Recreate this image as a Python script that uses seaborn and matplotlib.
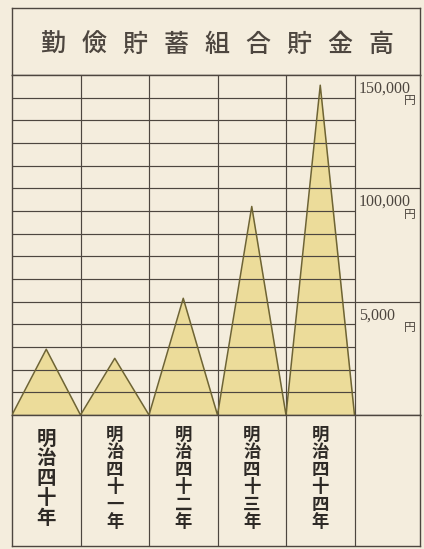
import numpy as np
import pandas as pd
import matplotlib.pyplot as plt
import seaborn as sns

# Data
years = ['明治四十年', '明治四十一年', '明治四十二年', '明治四十三年', '明治四十四年']
savings = [29000, 25000, 51500, 92000, 145500]
title_chars = list('勤儉貯蓄組合貯金高')
major_ticks = [150000, 100000, 50000]
major_labels = ['150,000', '100,000', '5,000']   # printed as in the original
minor_step = 10000
y_max = 150000

paper = '#f4eddd'
ink = '#4d463f'
fill_col = '#ecdc9a'
edge_col = '#6e6434'

sns.set_style('white')
plt.rcParams['font.family'] = ['Liberation Serif', 'Noto Sans CJK JP', 'DejaVu Sans']

W, H = 424, 549
fig = plt.figure(figsize=(W / 100, H / 100), dpi=100)
fig.patch.set_facecolor(paper)

left, right = 12, 420
col_w = 68.5
x_right = -0.5 + (right - left) / col_w

def box(top, bottom):
    return [left / W, 1 - bottom / H, (right - left) / W, (bottom - top) / H]

# -------------------------
# Title box
# -------------------------
ax_t = fig.add_axes(box(8, 75))
ax_t.set_facecolor(paper)
ax_t.set_xticks([])
ax_t.set_yticks([])
for s in ax_t.spines.values():
    s.set_color(ink)
    s.set_linewidth(1.0)
for x, ch in zip(np.linspace(0.1, 0.905, len(title_chars)), title_chars):
    ax_t.text(x, 0.45, ch, ha='center', va='center', fontsize=18,
              family=['Noto Sans CJK JP'], fontweight='medium', color=ink)

# -------------------------
# Main chart
# -------------------------
ax = fig.add_axes(box(75, 415))
ax.set_facecolor(paper)

pos = np.arange(len(years))
zig_x, zig_y = [-0.5], [0]
for i, v in zip(pos, savings):
    zig_x += [i, i + 0.5]
    zig_y += [v, 0]
df = pd.DataFrame({'x': zig_x, 'y': zig_y})

ax.fill_between(df['x'], 0, df['y'], color=fill_col, zorder=1, linewidth=0)

minor = [v for v in range(minor_step, y_max, minor_step) if v not in major_ticks]
ax.hlines(minor, -0.5, len(years) - 0.5, color=ink, linewidth=0.85, zorder=2)
ax.hlines([m for m in major_ticks if m < y_max], -0.5, x_right, color=ink,
          linewidth=0.85, zorder=2)
ax.vlines(pos + 0.5, 0, y_max, color=ink, linewidth=0.85, zorder=2)

sns.lineplot(data=df, x='x', y='y', sort=False, color=edge_col, linewidth=1.1,
             ax=ax, zorder=3)

for v, lab in zip(major_ticks, major_labels):
    ax.annotate(lab, xy=(len(years) - 0.5, v), xytext=(3, -4),
                textcoords='offset points', ha='left', va='top',
                fontsize=11.5, color=ink, family=['Liberation Serif'])
    ax.annotate('円', xy=(x_right, v), xytext=(-3, -14),
                textcoords='offset points', ha='right', va='top',
                fontsize=8.5, color=ink, family=['Noto Sans CJK JP'])

ax.set_xlim(-0.5, x_right)
ax.set_ylim(0, y_max)
ax.set_xticks([])
ax.set_yticks([])
ax.set_xlabel('')
ax.set_ylabel('')
for s in ax.spines.values():
    s.set_color(ink)
    s.set_linewidth(1.0)

# -------------------------
# Year labels box
# -------------------------
ax_b = fig.add_axes(box(415, 546))
ax_b.set_facecolor(paper)
ax_b.set_xlim(-0.5, x_right)
ax_b.set_ylim(0, 1)
ax_b.vlines(pos + 0.5, 0, 1, color=ink, linewidth=0.85)
ax_b.set_xticks([])
ax_b.set_yticks([])
for s in ax_b.spines.values():
    s.set_color(ink)
    s.set_linewidth(1.0)
for i, y in zip(pos, years):
    fs = 14 if len(y) == 5 else 12.5
    ax_b.text(i, 0.515, '\n'.join(y), ha='center', va='center', fontsize=fs,
              linespacing=1.05 if len(y) == 5 else 0.97, fontweight='bold',
              family=['Noto Sans CJK JP'], color='#2e2a26')

plt.savefig('out.png', dpi=100, facecolor=paper)
